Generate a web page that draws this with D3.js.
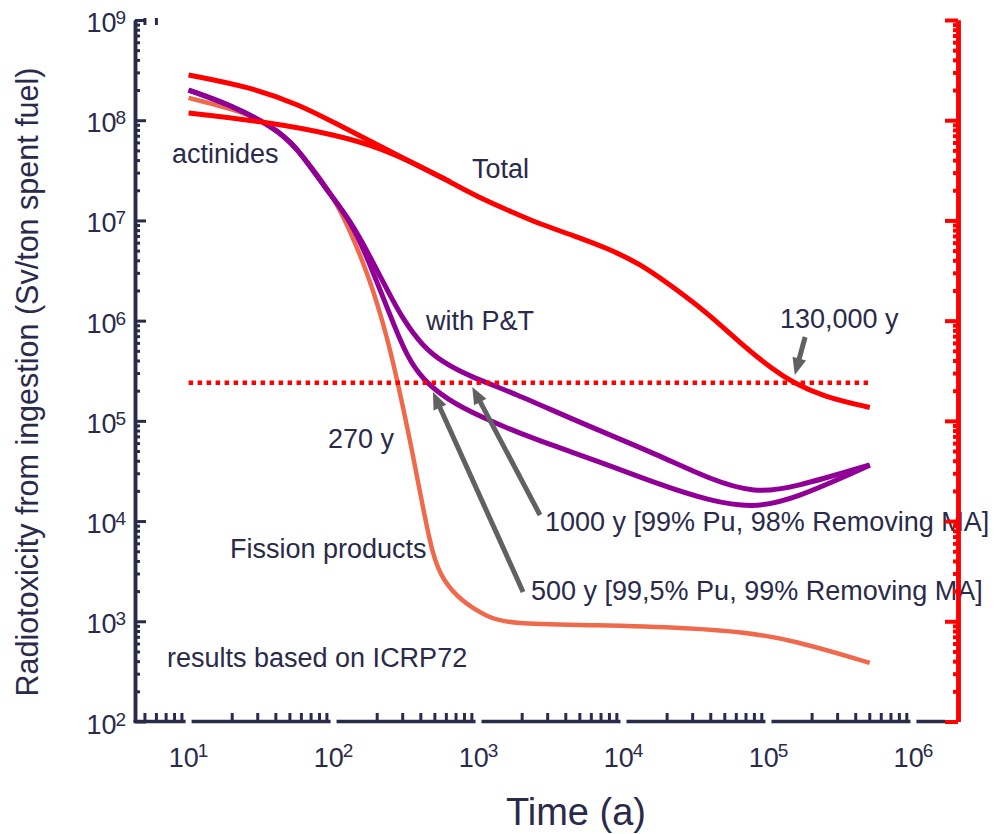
<!DOCTYPE html>
<html>
<head>
<meta charset="utf-8">
<script src="https://cdn.jsdelivr.net/npm/d3@7"></script>
<style>
  body { margin: 0; background: #fff; }
  text { font-family: "Liberation Sans", Arial, sans-serif; fill: #2a2a4a; }
</style>
</head>
<body>
<div id="chart"></div>
<script>
// time (years) and radiotoxicity (Sv/ton spent fuel)
const totalT = [10, 26.5, 58.7, 102, 219, 635, 1074, 1840, 2650, 4485, 7690, 13000, 21900, 37700, 63600, 107000, 148000, 238000, 500000];
const totalV = [2.83e8, 2.15e8, 1.42e8, 9.4e7, 5.3e7, 2.44e7, 1.61e7, 1.16e7, 9.2e6, 7.1e6, 5.3e6, 3.7e6, 2.17e6, 1.2e6, 6.0e5, 3.25e5, 2.41e5, 1.75e5, 1.36e5];

const actT = [10, 34.7, 102, 219, 400, 635];
const actV = [1.18e8, 9.6e7, 7.2e7, 5.2e7, 3.44e7, 2.44e7];

const fpT = [10, 20, 34.7, 55, 94.6, 130, 179, 234, 274, 337, 408, 485, 569, 745, 1145, 1650, 6170, 30200, 66700, 148000, 500000];
const fpV = [1.67e8, 1.3e8, 9.6e7, 5.4e7, 2.01e7, 8.0e6, 2.55e6, 6.9e5, 2.6e5, 6.44e4, 1.51e4, 4.37e3, 2.58e3, 1.63e3, 1.1e3, 940, 918, 857, 782, 650, 384];

// with P&T, 1000 y case (99% Pu, 98% MA removed)
const pt1T = [10, 20, 38, 55, 90, 130, 179, 234, 301, 414, 569, 873, 1729, 5010, 17850, 39500, 80800, 148000, 500000];
const pt1V = [2.0e8, 1.4e8, 8.6e7, 5.6e7, 2.0e7, 1.01e7, 4.33e6, 2.04e6, 1.03e6, 5.5e5, 3.82e5, 2.77e5, 1.91e5, 9.6e4, 4.5e4, 2.6e4, 1.9e4, 2.15e4, 3.63e4];

// with P&T, 500 y case (99.5% Pu, 99% MA removed)
const pt2T = [10, 20, 38, 55, 90, 130, 170, 209, 257, 321, 414, 607, 1023, 2264, 6890, 17850, 39500, 77100, 148000, 500000];
const pt2V = [2.0e8, 1.4e8, 8.6e7, 5.6e7, 2.0e7, 1.01e7, 4.33e6, 2.04e6, 9.6e5, 4.39e5, 2.56e5, 1.63e5, 1.1e5, 6.8e4, 3.9e4, 2.3e4, 1.59e4, 1.35e4, 1.63e4, 3.6e4];

// natural uranium reference level (dotted)
const refT = [10, 500000];
const refV = [2.4e5, 2.4e5];

const xDecades = [1, 2, 3, 4, 5, 6];
const yDecades = [2, 3, 4, 5, 6, 7, 8, 9];

// arrows: tail and tip in data coordinates
const arrows = [
  { from: [2030, 1960], to: [485, 1.94e5] },
  { from: [2655, 1.15e4], to: [906, 2.18e5] },
  { from: [179000, 6.87e5], to: [152000, 2.87e5] }
];

const labels = [
  { text: "actinides", x: 172, y: 163 },
  { text: "Total", x: 472, y: 178 },
  { text: "with P&T", x: 426, y: 330 },
  { text: "130,000 y", x: 780, y: 328 },
  { text: "270 y", x: 328, y: 448 },
  { text: "Fission products", x: 230, y: 558 },
  { text: "1000 y [99% Pu, 98% Removing MA]", x: 545, y: 531 },
  { text: "500 y [99,5% Pu, 99% Removing MA]", x: 531, y: 600 },
  { text: "results based on ICRP72", x: 167, y: 667 }
];

const navy = "#2a2a4a";
const width = 995, height = 834;

const svg = d3.select("#chart").append("svg")
  .attr("width", width)
  .attr("height", height);

const x = d3.scaleLog().domain([4.27, 2.03e6]).range([135, 958]);
const y = d3.scaleLog().domain([1e2, 1e9]).range([721.5, 20]);

const zip = (ts, vs) => ts.map((t, i) => [t, vs[i]]);
const line = d3.line()
  .x(d => x(d[0]))
  .y(d => y(d[1]))
  .curve(d3.curveBasis);

// minor tick values (2..9 per decade)
const minorVals = (lo, hi) => {
  const out = [];
  for (let e = lo; e < hi; e++) {
    for (let m = 2; m <= 9; m++) out.push(m * Math.pow(10, e));
  }
  return out;
};

// curves
svg.append("path").attr("d", line(zip(fpT, fpV)))
  .attr("fill", "none").attr("stroke", "#ef6a4c").attr("stroke-width", 4.5);

[zip(pt1T, pt1V), zip(pt2T, pt2V)].forEach(d => {
  svg.append("path").attr("d", line(d))
    .attr("fill", "none").attr("stroke", "#910096").attr("stroke-width", 5);
});

svg.append("path").attr("d", line(zip(actT, actV)))
  .attr("fill", "none").attr("stroke", "#ff0000").attr("stroke-width", 5);
svg.append("path").attr("d", line(zip(totalT, totalV)))
  .attr("fill", "none").attr("stroke", "#ff0000").attr("stroke-width", 5);

svg.append("path").attr("d", d3.line().x(d => x(d[0])).y(d => y(d[1]))(zip(refT, refV)))
  .attr("fill", "none").attr("stroke", "#ff0000").attr("stroke-width", 4.5)
  .attr("stroke-dasharray", "4.5,4.5");

// arrows
arrows.forEach(a => {
  const x0 = x(a.from[0]), y0 = y(a.from[1]);
  const x1 = x(a.to[0]), y1 = y(a.to[1]);
  const len = Math.hypot(x1 - x0, y1 - y0);
  const ux = (x1 - x0) / len, uy = (y1 - y0) / len;
  const head = 17, half = 7;
  const bx = x1 - ux * head, by = y1 - uy * head;
  svg.append("line")
    .attr("x1", x0).attr("y1", y0).attr("x2", bx + ux * 2).attr("y2", by + uy * 2)
    .attr("stroke", "#616161").attr("stroke-width", 5);
  svg.append("path")
    .attr("d", `M${x1},${y1}L${bx - uy * half},${by + ux * half}L${bx + uy * half},${by - ux * half}Z`)
    .attr("fill", "#616161");
});

// annotations
labels.forEach(l => {
  svg.append("text")
    .attr("x", l.x).attr("y", l.y)
    .attr("font-size", 27)
    .text(l.text);
});

// left axis (navy, ticks inside)
const leftMinor = svg.append("g").attr("transform", "translate(135,0)")
  .call(d3.axisRight(y).tickValues(minorVals(2, 9)).tickSize(5).tickSizeOuter(0).tickFormat(""));
const leftMajor = svg.append("g").attr("transform", "translate(135,0)")
  .call(d3.axisRight(y).tickValues(yDecades.map(e => Math.pow(10, e))).tickSize(11).tickSizeOuter(0).tickFormat(""));
[leftMinor, leftMajor].forEach(g => {
  g.select(".domain").attr("stroke", navy).attr("stroke-width", 3.5);
  g.selectAll(".tick line").attr("stroke", navy).attr("stroke-width", 3);
});

// bottom axis (navy, ticks inside)
const xMinor = [5, 6, 7, 8, 9].concat(minorVals(1, 6));
const bottom = svg.append("g").attr("class", "x-axis");
bottom.append("line")
  .attr("x1", 133.5).attr("x2", 945)
  .attr("y1", 721.5).attr("y2", 721.5)
  .attr("stroke", navy).attr("stroke-width", 3.5);
bottom.selectAll("line.minor").data(xMinor).join("line")
  .attr("class", "minor")
  .attr("x1", d => x(d)).attr("x2", d => x(d))
  .attr("y1", 721.5).attr("y2", 713)
  .attr("stroke", navy).attr("stroke-width", 3);

// small breaks in the bottom line at the decades
bottom.selectAll("line.gap").data(xDecades).join("line")
  .attr("class", "gap")
  .attr("x1", e => x(Math.pow(10, e))).attr("x2", e => x(Math.pow(10, e)))
  .attr("y1", 719).attr("y2", 724)
  .attr("stroke", "#fff").attr("stroke-width", 6);

// stray top ticks
svg.selectAll("line.topTick").data([5, 6]).join("line")
  .attr("class", "topTick")
  .attr("x1", d => x(d)).attr("x2", d => x(d))
  .attr("y1", 18).attr("y2", 25)
  .attr("stroke", navy).attr("stroke-width", 3);

// right axis (red, ticks inside)
const rightMinor = svg.append("g").attr("transform", "translate(958,0)")
  .call(d3.axisLeft(y).tickValues(minorVals(2, 9)).tickSize(5).tickSizeOuter(0).tickFormat(""));
const rightMajor = svg.append("g").attr("transform", "translate(958,0)")
  .call(d3.axisLeft(y).tickValues(yDecades.map(e => Math.pow(10, e))).tickSize(13).tickSizeOuter(0).tickFormat(""));
[rightMinor, rightMajor].forEach(g => {
  g.select(".domain").attr("stroke", "#ff0000").attr("stroke-width", 4.5);
  g.selectAll(".tick line").attr("stroke", "#ff0000").attr("stroke-width", 4);
});

// tick labels with superscripts
const yLab = svg.append("g");
yDecades.forEach(e => {
  const t = yLab.append("text")
    .attr("x", 126).attr("y", y(Math.pow(10, e)) + 12)
    .attr("text-anchor", "end")
    .attr("font-size", 27)
    .text("10");
  t.append("tspan").attr("dy", -8).attr("dx", -1).attr("font-size", 19).text(e);
});

const xLab = svg.append("g");
xDecades.forEach(e => {
  const t = xLab.append("text")
    .attr("x", x(Math.pow(10, e))).attr("y", 767)
    .attr("text-anchor", "middle")
    .attr("font-size", 27)
    .text("10");
  t.append("tspan").attr("dy", -10).attr("dx", -1).attr("font-size", 19).text(e);
});

// axis titles
svg.append("text")
  .attr("transform", "translate(38,382) rotate(-90)")
  .attr("text-anchor", "middle")
  .attr("font-size", 30.5)
  .text("Radiotoxicity from ingestion (Sv/ton spent fuel)");

svg.append("text")
  .attr("x", 576).attr("y", 825)
  .attr("text-anchor", "middle")
  .attr("font-size", 38)
  .text("Time (a)");
</script>
</body>
</html>
